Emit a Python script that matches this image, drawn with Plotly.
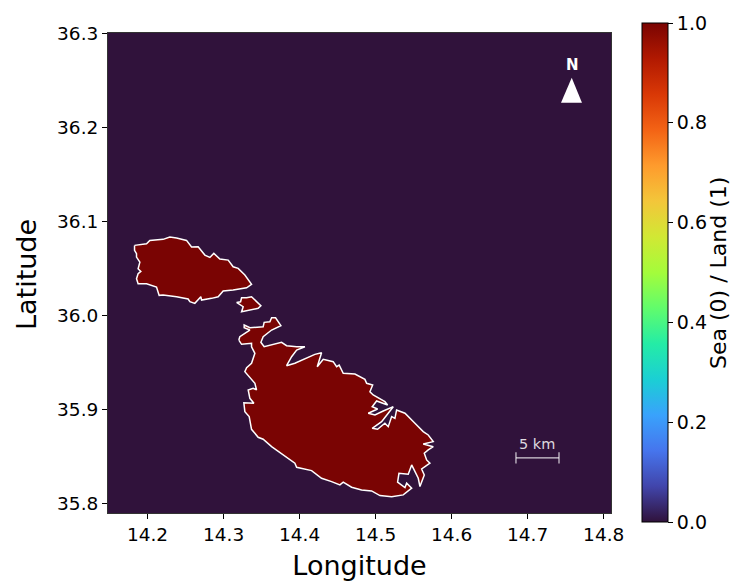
import plotly.graph_objects as go

gozo_lon = [14.1829,14.1899,14.1987,14.2030,14.2139,14.2205,14.2293,14.2382,14.2513,14.2579,14.2666,14.2754,14.2820,14.2872,14.2951,14.3061,14.3126,14.3192,14.3280,14.3368,14.3303,14.3126,14.2995,14.2929,14.2842,14.2711,14.2701,14.2622,14.2557,14.2534,14.2382,14.2205,14.2153,14.2139,14.2118,14.1987,14.1876,14.1855,14.1876,14.1912,14.1876,14.1899,14.1855,14.1855,14.1829,14.1829]
gozo_lat = [36.0749,36.0755,36.0766,36.0802,36.0813,36.0813,36.0837,36.0827,36.0802,36.0731,36.0734,36.0646,36.0621,36.0664,36.0603,36.0592,36.0521,36.0504,36.0433,36.0334,36.0298,36.0273,36.0263,36.0202,36.0185,36.0167,36.0202,36.0132,36.0149,36.0178,36.0202,36.0220,36.0217,36.0252,36.0305,36.0340,36.0340,36.0394,36.0447,36.0472,36.0500,36.0571,36.0624,36.0660,36.0696,36.0749]

comino_lon = [14.3171,14.3224,14.3237,14.3303,14.3368,14.3412,14.3491,14.3455,14.3303,14.3237,14.3258,14.3214,14.3171]
comino_lat = [36.0142,36.0149,36.0191,36.0191,36.0202,36.0167,36.0106,36.0079,36.0050,36.0043,36.0096,36.0121,36.0142]

malta_lon = [14.3201,14.3214,14.3280,14.3346,14.3271,14.3271,14.3346,14.3478,14.3521,14.3534,14.3609,14.3632,14.3684,14.3754,14.3632,14.3521,14.3491,14.3534,14.3653,14.3763,14.3829,14.3961,14.4070,14.3961,14.3895,14.3829,14.3938,14.4070,14.4201,14.4289,14.4232,14.4311,14.4442,14.4487,14.4521,14.4574,14.4728,14.4859,14.4882,14.4961,14.4925,14.4968,14.5122,14.5158,14.5013,14.4955,14.5026,14.4903,14.4991,14.5100,14.5232,14.5166,14.5079,14.4955,14.5026,14.5122,14.5166,14.5211,14.5254,14.5276,14.5386,14.5517,14.5626,14.5692,14.5758,14.5626,14.5758,14.5692,14.5640,14.5671,14.5714,14.5649,14.5605,14.5640,14.5583,14.5561,14.5474,14.5429,14.5307,14.5289,14.5386,14.5408,14.5474,14.5363,14.5211,14.5057,14.4947,14.4816,14.4684,14.4574,14.4530,14.4421,14.4289,14.4158,14.3961,14.3938,14.3784,14.3632,14.3521,14.3455,14.3368,14.3337,14.3280,14.3267,14.3399,14.3346,14.3324,14.3389,14.3434,14.3412,14.3280,14.3303,14.3368,14.3412,14.3368,14.3368,14.3237,14.3201]
malta_lat = [35.9741,35.9777,35.9813,35.9848,35.9872,35.9901,35.9872,35.9883,35.9883,35.9930,35.9936,35.9979,35.9979,35.9894,35.9848,35.9777,35.9717,35.9670,35.9696,35.9717,35.9681,35.9670,35.9670,35.9635,35.9564,35.9468,35.9494,35.9539,35.9589,35.9606,35.9457,35.9536,35.9511,35.9457,35.9475,35.9387,35.9380,35.9323,35.9281,35.9263,35.9191,35.9156,35.9085,35.9050,35.9093,35.9032,35.9007,35.8962,35.8944,35.8986,35.9032,35.8962,35.8872,35.8802,35.8791,35.8855,35.8819,35.8926,35.8908,35.8997,35.8962,35.8855,35.8766,35.8731,35.8660,35.8635,35.8606,35.8571,35.8536,35.8465,35.8430,35.8394,35.8369,35.8305,35.8181,35.8270,35.8412,35.8313,35.8323,35.8228,35.8170,35.8217,35.8164,35.8093,35.8074,35.8085,35.8135,35.8146,35.8174,35.8228,35.8199,35.8234,35.8270,35.8351,35.8387,35.8430,35.8518,35.8606,35.8685,35.8706,35.8791,35.8926,35.8979,35.9074,35.9068,35.9121,35.9210,35.9228,35.9210,35.9281,35.9404,35.9447,35.9494,35.9600,35.9670,35.9706,35.9696,35.9741]

sea_lon = [14.0, 15.0]
sea_lat = [35.5, 36.5]
sea_z = [[0, 0], [0, 0]]

scale_lon = [14.6846, 14.7412]
scale_lat = [35.8486, 35.8486]
x_ticks = [14.2, 14.3, 14.4, 14.5, 14.6, 14.7, 14.8]
y_ticks = [35.8, 35.9, 36.0, 36.1, 36.2, 36.3]
cbar_ticks = [0.0, 0.2, 0.4, 0.6, 0.8, 1.0]

FONT = "DejaVu Sans"
fig = go.Figure()
fig.add_trace(go.Heatmap(
    x=sea_lon, y=sea_lat, z=sea_z, zmin=0, zmax=1, colorscale="Turbo", hoverinfo="skip",
    colorbar=dict(
        x=1.0616, xanchor="left", xpad=0, y=0.501, yanchor="middle", ypad=0,
        thicknessmode="pixels", thickness=26, lenmode="pixels", len=499,
        outlinecolor="black", outlinewidth=1,
        tickmode="array", tickvals=cbar_ticks, ticktext=[f"{v:.1f}" for v in cbar_ticks],
        ticks="outside", ticklen=5, tickwidth=1, tickcolor="black",
        tickfont=dict(family=FONT, size=19, color="black"),
    ),
))
for lon, lat in [(gozo_lon, gozo_lat), (comino_lon, comino_lat), (malta_lon, malta_lat)]:
    fig.add_trace(go.Scatter(x=lon, y=lat, mode="lines", fill="toself", fillcolor="#7a0403",
                             line=dict(color="white", width=1.5), hoverinfo="skip", showlegend=False))
fig.add_trace(go.Scatter(x=scale_lon, y=scale_lat, mode="lines+markers",
                         line=dict(color="rgba(255,255,255,0.8)", width=1.2),
                         marker=dict(symbol="line-ns", size=8, line=dict(color="rgba(255,255,255,0.8)", width=1.2)),
                         hoverinfo="skip", showlegend=False))
fig.add_annotation(x=14.7129, y=35.8635, text="5 km", showarrow=False,
                   font=dict(family=FONT, size=14.5, color="rgba(255,255,255,0.85)"))
fig.add_annotation(x=14.7584, y=36.2665, text="<b>N</b>", showarrow=False,
                   font=dict(family=FONT, size=15, color="white"))
fig.add_shape(type="path", xref="x domain", yref="y domain", path="M 0.9219 0.9069 L 0.9006 0.8548 L 0.9423 0.8548 Z",
              fillcolor="white", line=dict(width=0))
# Colorbar and y-axis titles, placed as rotated text
fig.add_annotation(xref="paper", yref="paper", x=1.2127, y=0.5, text="Sea (0) / Land (1)", textangle=-90,
                   xanchor="center", yanchor="middle",
                   showarrow=False, font=dict(family=FONT, size=22, color="black"))
fig.add_annotation(xref="paper", yref="paper", x=-0.1630, y=0.4958, text="Latitude", textangle=-90,
                   xanchor="center", yanchor="middle",
                   showarrow=False, font=dict(family=FONT, size=27, color="black"))

fig.update_xaxes(range=[14.148, 14.8096], tickmode="array", tickvals=x_ticks, ticktext=[f"{v:.1f}" for v in x_ticks],
                 ticks="outside", ticklen=5, tickwidth=1, tickcolor="black",
                 showgrid=False, zeroline=False, showline=True, linecolor="#333", linewidth=1, mirror=True,
                 tickfont=dict(family=FONT, size=18.5, color="black"),
                 title=dict(text="Longitude", font=dict(family=FONT, size=27, color="black"), standoff=17))
fig.update_yaxes(range=[35.79, 36.301], tickmode="array", tickvals=y_ticks, ticktext=[f"{v:.1f}" for v in y_ticks],
                 ticks="outside", ticklen=5, tickwidth=1, tickcolor="black",
                 showgrid=False, zeroline=False, showline=True, linecolor="#333", linewidth=1, mirror=True,
                 tickfont=dict(family=FONT, size=18.5, color="black"))
fig.update_layout(width=730, height=581, margin=dict(l=108, r=119, t=33, b=68, autoexpand=False),
                  paper_bgcolor="white", plot_bgcolor="#30123b", showlegend=False)
fig.write_html("out.html", config={"displayModeBar": False},
               post_script="document.body.style.margin='0';document.body.style.overflow='hidden';")
